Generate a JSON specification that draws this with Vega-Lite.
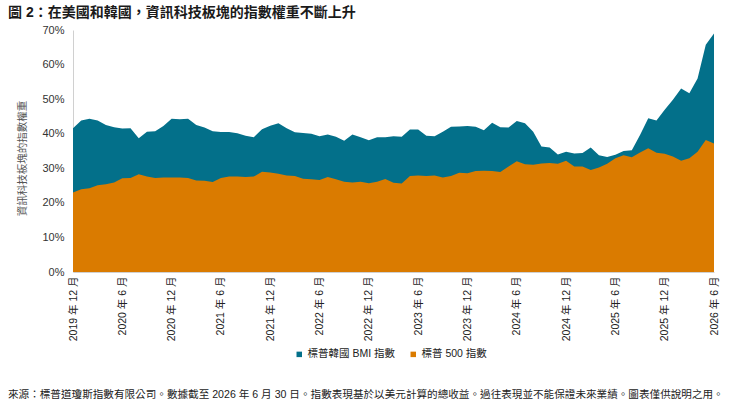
{
  "$schema": "https://vega.github.io/schema/vega-lite/v6.json",
  "autosize": {"type": "pad"},
  "padding": {"left": 8, "top": 6, "right": 5, "bottom": 6},
  "background": "white",
  "title": {
    "text": "來源：標普道瓊斯指數有限公司。數據截至 2026 年 6 月 30 日。指數表現基於以美元計算的總收益。過往表現並不能保證未來業績。圖表僅供說明之用。",
    "orient": "bottom",
    "anchor": "start",
    "frame": "group",
    "dx": -65,
    "offset": 30,
    "font": "Liberation Sans, Noto Sans CJK TC",
    "fontSize": 10.6,
    "fontWeight": "normal",
    "color": "#222222"
  },
  "config": {
    "view": {"stroke": null},
    "font": "Liberation Sans, Noto Sans CJK TC",
    "axisY": {
      "labelOverlap": false,
      "labelFlush": false,
      "grid": false,
      "ticks": false,
      "domainColor": "#d0d0d0",
      "labelFontSize": 11,
      "labelColor": "#333333",
      "labelPadding": 9,
      "titleFontSize": 10.5,
      "titleFontWeight": "normal",
      "titleColor": "#555555",
      "titlePadding": 14,
      "titleY": 128
    }
  },
  "vconcat": [
    {
      "width": 641,
      "height": 242,
      "title": {
        "text": "圖 2：在美國和韓國，資訊科技板塊的指數權重不斷上升",
        "anchor": "start",
        "frame": "group",
        "dx": -65,
        "offset": 4,
        "font": "Liberation Sans, Noto Sans CJK TC",
        "fontSize": 14,
        "fontWeight": "bold",
        "color": "#1a1a1a"
      },
      "data": {
        "values": [
          {"month": "2019 年 12 月", "kr": 41.6, "sp": 23.0},
          {"month": "2020 年 1 月", "kr": 43.8, "sp": 23.9},
          {"month": "2020 年 2 月", "kr": 44.3, "sp": 24.2},
          {"month": "2020 年 3 月", "kr": 43.8, "sp": 25.1},
          {"month": "2020 年 4 月", "kr": 42.5, "sp": 25.4},
          {"month": "2020 年 5 月", "kr": 41.9, "sp": 25.9},
          {"month": "2020 年 6 月", "kr": 41.5, "sp": 27.1},
          {"month": "2020 年 7 月", "kr": 41.6, "sp": 27.2},
          {"month": "2020 年 8 月", "kr": 38.7, "sp": 28.3},
          {"month": "2020 年 9 月", "kr": 40.6, "sp": 27.6},
          {"month": "2020 年 10 月", "kr": 40.7, "sp": 27.2},
          {"month": "2020 年 11 月", "kr": 42.2, "sp": 27.3},
          {"month": "2020 年 12 月", "kr": 44.3, "sp": 27.3},
          {"month": "2021 年 1 月", "kr": 44.2, "sp": 27.3},
          {"month": "2021 年 2 月", "kr": 44.3, "sp": 27.2},
          {"month": "2021 年 3 月", "kr": 42.5, "sp": 26.5},
          {"month": "2021 年 4 月", "kr": 41.8, "sp": 26.4},
          {"month": "2021 年 5 月", "kr": 40.7, "sp": 26.0},
          {"month": "2021 年 6 月", "kr": 40.5, "sp": 27.2},
          {"month": "2021 年 7 月", "kr": 40.5, "sp": 27.6},
          {"month": "2021 年 8 月", "kr": 40.1, "sp": 27.6},
          {"month": "2021 年 9 月", "kr": 39.4, "sp": 27.5},
          {"month": "2021 年 10 月", "kr": 39.0, "sp": 27.6},
          {"month": "2021 年 11 月", "kr": 41.3, "sp": 29.0},
          {"month": "2021 年 12 月", "kr": 42.3, "sp": 28.8},
          {"month": "2022 年 1 月", "kr": 43.0, "sp": 28.4},
          {"month": "2022 年 2 月", "kr": 41.6, "sp": 27.9},
          {"month": "2022 年 3 月", "kr": 40.4, "sp": 27.8},
          {"month": "2022 年 4 月", "kr": 40.2, "sp": 27.0},
          {"month": "2022 年 5 月", "kr": 40.0, "sp": 26.8},
          {"month": "2022 年 6 月", "kr": 39.3, "sp": 26.6},
          {"month": "2022 年 7 月", "kr": 39.8, "sp": 27.5},
          {"month": "2022 年 8 月", "kr": 39.1, "sp": 26.8},
          {"month": "2022 年 9 月", "kr": 38.0, "sp": 26.1},
          {"month": "2022 年 10 月", "kr": 39.8, "sp": 25.9},
          {"month": "2022 年 11 月", "kr": 39.0, "sp": 26.1},
          {"month": "2022 年 12 月", "kr": 38.1, "sp": 25.7},
          {"month": "2023 年 1 月", "kr": 39.0, "sp": 26.1},
          {"month": "2023 年 2 月", "kr": 39.0, "sp": 26.9},
          {"month": "2023 年 3 月", "kr": 39.3, "sp": 25.8},
          {"month": "2023 年 4 月", "kr": 39.1, "sp": 25.6},
          {"month": "2023 年 5 月", "kr": 41.2, "sp": 27.8},
          {"month": "2023 年 6 月", "kr": 41.2, "sp": 27.9},
          {"month": "2023 年 7 月", "kr": 39.4, "sp": 27.8},
          {"month": "2023 年 8 月", "kr": 39.3, "sp": 27.9},
          {"month": "2023 年 9 月", "kr": 40.6, "sp": 27.3},
          {"month": "2023 年 10 月", "kr": 42.0, "sp": 27.8},
          {"month": "2023 年 11 月", "kr": 42.1, "sp": 28.7},
          {"month": "2023 年 12 月", "kr": 42.2, "sp": 28.6},
          {"month": "2024 年 1 月", "kr": 42.0, "sp": 29.2},
          {"month": "2024 年 2 月", "kr": 41.0, "sp": 29.3},
          {"month": "2024 年 3 月", "kr": 43.2, "sp": 29.2},
          {"month": "2024 年 4 月", "kr": 41.9, "sp": 28.9},
          {"month": "2024 年 5 月", "kr": 41.8, "sp": 30.5},
          {"month": "2024 年 6 月", "kr": 43.7, "sp": 32.0},
          {"month": "2024 年 7 月", "kr": 43.0, "sp": 31.2},
          {"month": "2024 年 8 月", "kr": 40.6, "sp": 31.0},
          {"month": "2024 年 9 月", "kr": 36.3, "sp": 31.4},
          {"month": "2024 年 10 月", "kr": 36.0, "sp": 31.5},
          {"month": "2024 年 11 月", "kr": 34.0, "sp": 31.3},
          {"month": "2024 年 12 月", "kr": 34.8, "sp": 32.2},
          {"month": "2025 年 1 月", "kr": 34.3, "sp": 30.5},
          {"month": "2025 年 2 月", "kr": 34.4, "sp": 30.5},
          {"month": "2025 年 3 月", "kr": 36.0, "sp": 29.5},
          {"month": "2025 年 4 月", "kr": 33.8, "sp": 30.2},
          {"month": "2025 年 5 月", "kr": 33.3, "sp": 31.3},
          {"month": "2025 年 6 月", "kr": 33.9, "sp": 32.9},
          {"month": "2025 年 7 月", "kr": 35.0, "sp": 33.8},
          {"month": "2025 年 8 月", "kr": 35.2, "sp": 33.2},
          {"month": "2025 年 9 月", "kr": 39.6, "sp": 34.6},
          {"month": "2025 年 10 月", "kr": 44.5, "sp": 35.8},
          {"month": "2025 年 11 月", "kr": 43.8, "sp": 34.5},
          {"month": "2025 年 12 月", "kr": 46.9, "sp": 34.2},
          {"month": "2026 年 1 月", "kr": 49.8, "sp": 33.4},
          {"month": "2026 年 2 月", "kr": 53.1, "sp": 32.2},
          {"month": "2026 年 3 月", "kr": 51.7, "sp": 32.9},
          {"month": "2026 年 4 月", "kr": 56.0, "sp": 34.8},
          {"month": "2026 年 5 月", "kr": 65.7, "sp": 38.2},
          {"month": "2026 年 6 月", "kr": 69.0, "sp": 37.2}
        ]
      },
      "encoding": {
        "x": {
          "field": "month",
          "type": "ordinal",
          "sort": null,
          "scale": {"type": "point", "padding": 0},
          "axis": {
            "title": null,
            "values": ["2019 年 12 月", "2020 年 6 月", "2020 年 12 月", "2021 年 6 月", "2021 年 12 月", "2022 年 6 月", "2022 年 12 月", "2023 年 6 月", "2023 年 12 月", "2024 年 6 月", "2024 年 12 月", "2025 年 6 月", "2025 年 12 月", "2026 年 6 月"],
            "labelAngle": -90,
            "labelFontSize": 10.5,
            "labelColor": "#222222",
            "labelPadding": 4,
            "ticks": false,
            "grid": false,
            "domainColor": "#d0d0d0",
            "labelOverlap": false
          }
        }
      },
      "layer": [
        {
          "mark": {"type": "area", "opacity": 1},
          "encoding": {
            "y": {
              "field": "kr",
              "type": "quantitative",
              "stack": null,
              "title": "資訊科技板塊的指數權重",
              "scale": {"domain": [0, 70], "nice": false},
              "axis": {
                "values": [0, 10, 20, 30, 40, 50, 60, 70],
                "labelExpr": "datum.value + '%'",
                "labelOverlap": false
              }
            },
            "color": {
              "datum": "標普韓國 BMI 指數",
              "type": "nominal",
              "scale": {"domain": ["標普韓國 BMI 指數", "標普 500 指數"], "range": ["#03708a", "#da7b00"]},
              "legend": {
                "title": null,
                "orient": "none",
                "direction": "horizontal",
                "legendX": 221,
                "legendY": 319,
                "symbolType": "square",
                "symbolSize": 30,
                "symbolStrokeWidth": 0,
                "labelFontSize": 10.5,
                "labelColor": "#222222",
                "labelOffset": 3,
                "columnPadding": 12
              }
            }
          }
        },
        {
          "mark": {"type": "area", "opacity": 1},
          "encoding": {
            "y": {
              "field": "sp",
              "type": "quantitative",
              "stack": null,
              "title": "資訊科技板塊的指數權重",
              "scale": {"domain": [0, 70], "nice": false},
              "axis": {
                "values": [0, 10, 20, 30, 40, 50, 60, 70],
                "labelExpr": "datum.value + '%'",
                "labelOverlap": false
              }
            },
            "color": {"datum": "標普 500 指數", "type": "nominal"}
          }
        }
      ]
    }
  ]
}
